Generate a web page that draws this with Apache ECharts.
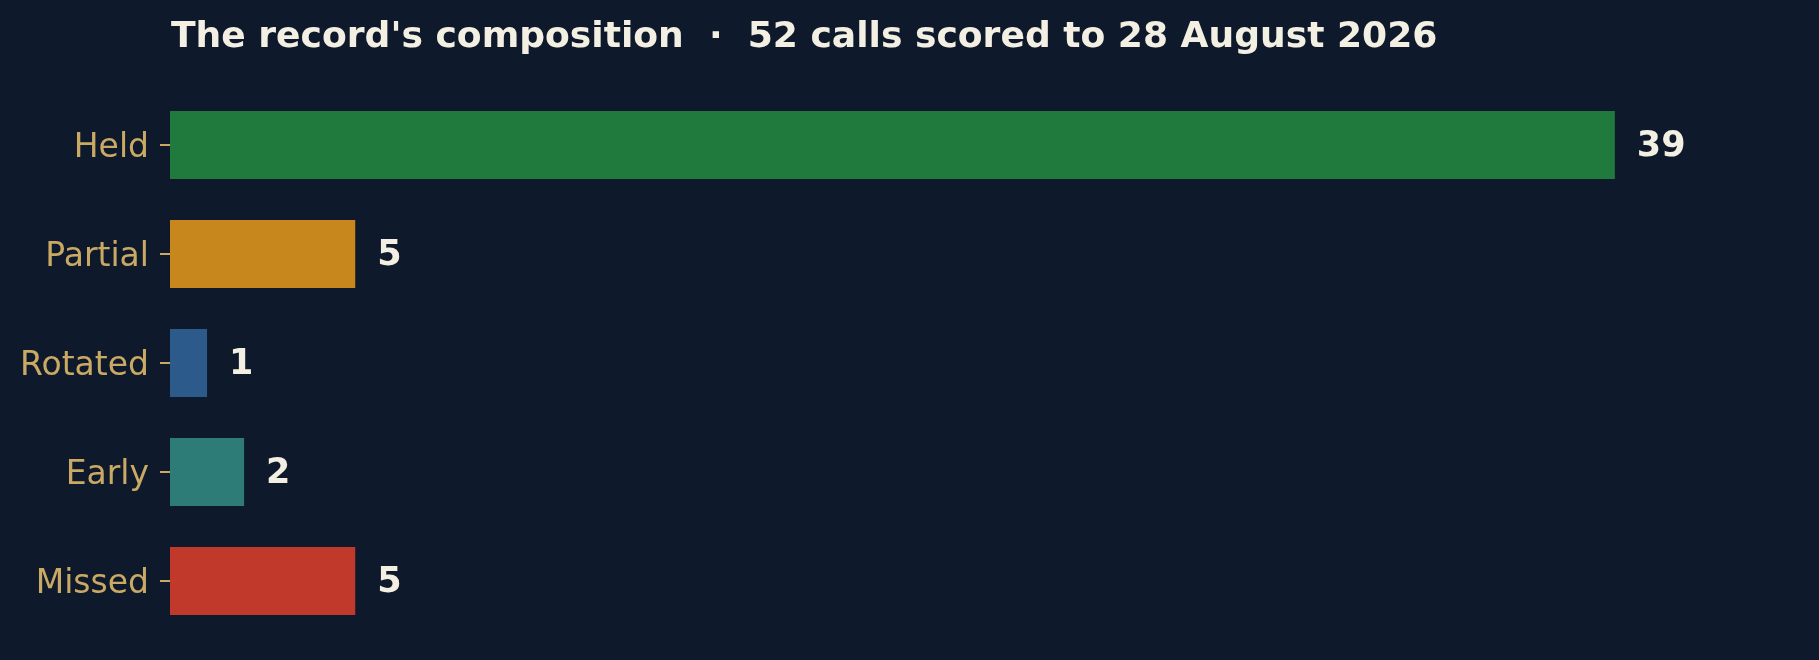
<!DOCTYPE html>
<html>
<head>
<meta charset="utf-8">
<script src="https://cdn.jsdelivr.net/npm/echarts@6/dist/echarts.min.js"></script>
<style>
html,body{margin:0;padding:0;background:#0e1a2b;}
#chart{width:1819px;height:660px;}
</style>
</head>
<body>
<div id="chart"></div>
<script>
const categories = ["Held", "Partial", "Rotated", "Early", "Missed"];
const counts = [39, 5, 1, 2, 5];
const barColors = ["#207a3e", "#c8871c", "#2c5a8a", "#2e7c78", "#c0392b"];
const titleText = "The record's composition  \u00b7  52 calls scored to 28 August 2026";

const chart = echarts.init(document.getElementById('chart'), null, {renderer: 'canvas'});
chart.setOption({
  backgroundColor: '#0e1a2b',
  animation: false,
  title: {
    text: titleText,
    left: 166,
    top: 15,
    textStyle: {
      color: '#f4efe3',
      fontFamily: 'DejaVu Sans',
      fontWeight: 'bold',
      fontSize: 36.1
    }
  },
  grid: {left: 170, right: 93, top: 90.5, bottom: 24.5, containLabel: false},
  xAxis: {
    type: 'value',
    min: 0,
    max: 42,
    show: false
  },
  yAxis: {
    type: 'category',
    inverse: true,
    data: categories,
    axisLine: {show: false},
    axisTick: {show: true, alignWithLabel: true, length: 10, lineStyle: {color: '#c9a964', width: 2}},
    axisLabel: {
      color: '#c9a964',
      fontFamily: 'DejaVu Sans',
      fontSize: 33,
      margin: 21,
      formatter: v => '{l|' + v + '}',
      rich: {
        l: {
          color: '#c9a964',
          fontFamily: 'DejaVu Sans',
          fontSize: 33,
          padding: [7, 0, 0, 0]
        }
      }
    },
    splitLine: {show: false}
  },
  series: [{
    type: 'bar',
    data: counts.map((v, i) => ({value: v, itemStyle: {color: barColors[i]}})),
    barWidth: 68,
    label: {
      show: true,
      position: 'right',
      distance: 22,
      formatter: p => '{v|' + p.value + '}',
      rich: {
        v: {
          color: '#f4efe3',
          fontFamily: 'DejaVu Sans',
          fontWeight: 'bold',
          fontSize: 35,
          padding: [3, 0, 0, 0]
        }
      }
    }
  }]
});
</script>
</body>
</html>
